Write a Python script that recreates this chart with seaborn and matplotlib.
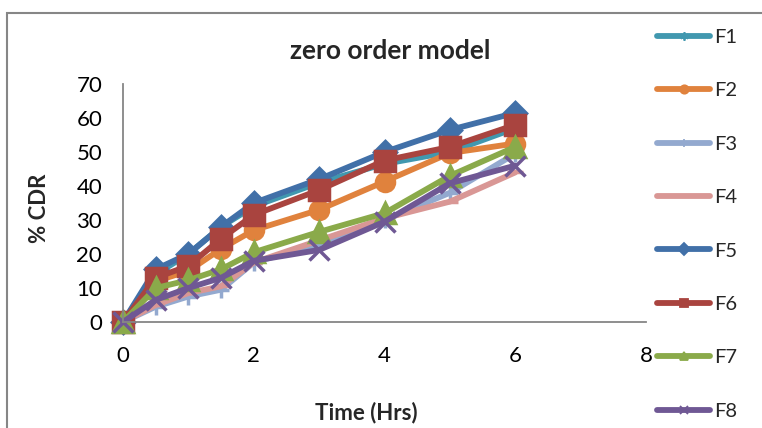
import numpy as np
import seaborn as sns
import matplotlib
matplotlib.use("Agg")
import matplotlib.pyplot as plt
from matplotlib.patches import Rectangle

# data
time = [0, 0.5, 1, 1.5, 2, 3, 4, 5, 6]
F1 = [0, 14, 20, 28, 34, 41, 46.5, 50, 57]
F2 = [0, 12, 15, 21.5, 27, 33, 41.3, 49.7, 52.5]
F3 = [0, 4.5, 7.5, 9.5, 17.5, 23, 30, 38, 49.5]
F4 = [0, 5, 8.5, 10.5, 17.5, 24, 30.5, 35.4, 44]
F5 = [0, 15.5, 20, 28, 35, 42, 50, 56.5, 61.5]
F6 = [0, 13, 16.5, 24.5, 31.5, 38.8, 47.5, 51.5, 58]
F7 = [0, 10, 12.3, 15.5, 20.5, 26.5, 32, 43, 51.5]
F8 = [0, 6.5, 10, 13, 18, 21.2, 29.5, 40.8, 46]

series = {"F1": F1, "F2": F2, "F3": F3, "F4": F4,
          "F5": F5, "F6": F6, "F7": F7, "F8": F8}
colors = {"F1": "#4198AF", "F2": "#E0823D", "F3": "#93A9CF", "F4": "#D99795",
          "F5": "#4170A8", "F6": "#A9443F", "F7": "#8AAA4A", "F8": "#6F5894"}
markers = {"F1": (6, 2, 0), "F2": "o", "F3": "+", "F4": "_",
           "F5": "D", "F6": "s", "F7": "^", "F8": "x"}
msizes = {"F1": 12, "F2": 13, "F3": 12, "F4": 12,
          "F5": 11, "F6": 14, "F7": 14, "F8": 14}

sns.set_style("white")
plt.rcParams['font.family'] = ['Lato', 'DejaVu Sans']

fig = plt.figure(figsize=(7.62, 4.28), dpi=100)
ax = fig.add_axes([123/762, 1 - 322/428, (646 - 123)/762, (322 - 84)/428])

for name, vals in series.items():
    sns.lineplot(x=time, y=vals, ax=ax, color=colors[name], marker=markers[name],
                 markersize=msizes[name], markeredgecolor=colors[name],
                 markeredgewidth=2.5, linewidth=4.2, label=name, clip_on=False)

ax.set_xlim(0, 8)
ax.set_ylim(0, 70)
ax.set_xticks([0, 2, 4, 6, 8])
ax.set_yticks(range(0, 71, 10))
sns.despine(ax=ax)
for s in ["left", "bottom"]:
    ax.spines[s].set_color("#868686")
    ax.spines[s].set_linewidth(1.3)
ax.tick_params(axis="both", direction="out", length=5, width=1.3, color="#868686",
               labelsize=16, labelcolor="black")
ax.tick_params(axis="x", pad=12)
ax.tick_params(axis="y", pad=10)
ax.set_xlabel("")
ax.set_ylabel("")

fig.text(390/762, 1 - 51/428, "zero order model", ha="center", va="center",
         fontsize=19, fontweight="bold")
fig.text(40/762, 1 - 208/428, "% CDR", ha="center", va="center", rotation=90,
         fontsize=16, fontweight="bold")
fig.text(366/762, 1 - 413/428, "Time (Hrs)", ha="center", va="center",
         fontsize=16, fontweight="bold")

# legend outside the plot area, with small markers
handles, labels = ax.get_legend_handles_labels()
ax.get_legend().remove()
leg = fig.legend(handles, labels, loc="upper left", bbox_to_anchor=(649/762, 1 - 21/428),
                 frameon=False, fontsize=14.5, handlelength=2.65, handletextpad=0.2,
                 labelspacing=1.8, borderaxespad=0)
for h in leg.legend_handles:
    h.set_markersize(6)
    h.set_markeredgewidth(1.3)

# outer chart border
fig.patches.append(Rectangle((7/762, -0.2), 1.2, 1.2 - 13/428, transform=fig.transFigure,
                             fill=False, edgecolor="#868686", linewidth=1.5))

fig.savefig("out.png", dpi=100)
